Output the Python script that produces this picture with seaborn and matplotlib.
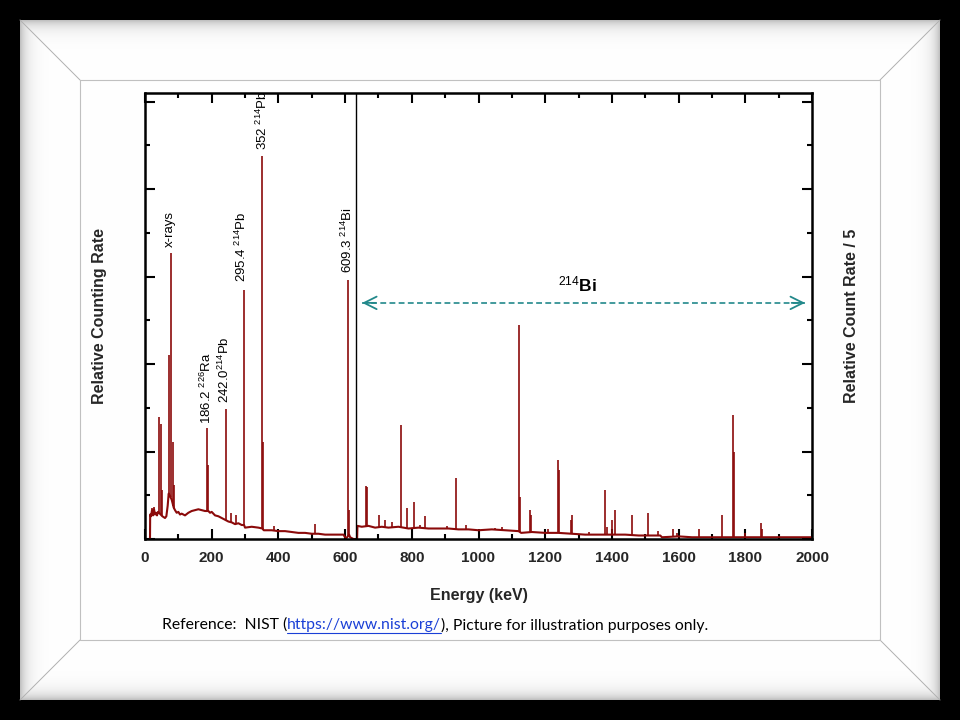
import matplotlib
matplotlib.use('Agg')

import matplotlib.pyplot as plt
from matplotlib.lines import Line2D
from matplotlib.ticker import MultipleLocator
import seaborn as sns
import numpy as np


# continuum of the spectrum (keV, relative rate)
cont_kev = [15, 15.5, 18, 21, 24, 27, 30, 33, 36, 39, 42, 52, 56, 60, 64, 68, 71,
            74, 80, 86, 90, 95, 100, 105, 110, 120, 130, 140, 150, 160, 170, 180,
            190, 195, 200, 210, 220, 230, 240, 250, 260, 270, 280, 290, 297, 300,
            320, 340, 352, 356, 380, 400, 420, 440, 460, 480, 500, 520, 540, 560,
            580, 595, 600, 604, 612, 615, 625, 632, 636, 637, 650, 670, 690, 710,
            730, 760, 790, 820, 850, 880, 910, 940, 970, 1000, 1040, 1080, 1120,
            1128, 1160, 1200, 1240, 1280, 1320, 1360, 1400, 1440, 1480, 1520,
            1545, 1550, 1600, 1640, 1680, 1720, 1760, 1800, 1840, 1880, 1920,
            1960, 2000]
cont_rate = [0.0, 0.28, 0.26, 0.33, 0.27, 0.34, 0.28, 0.30, 0.27, 0.31, 0.30, 0.26,
             0.25, 0.24, 0.26, 0.38, 0.52, 0.50, 0.45, 0.36, 0.33, 0.30, 0.31, 0.28,
             0.29, 0.27, 0.30, 0.32, 0.33, 0.34, 0.33, 0.32, 0.32, 0.30, 0.31, 0.27,
             0.26, 0.24, 0.22, 0.20, 0.19, 0.17, 0.18, 0.16, 0.16, 0.13, 0.14, 0.13,
             0.12, 0.10, 0.10, 0.09, 0.09, 0.08, 0.07, 0.07, 0.06, 0.06, 0.05, 0.05,
             0.05, 0.05, 0.02, 0.01, 0.05, 0.02, 0.0, 0.0, 0.0, 0.15, 0.14, 0.15,
             0.13, 0.14, 0.13, 0.14, 0.12, 0.13, 0.12, 0.12, 0.12, 0.11, 0.11, 0.10,
             0.11, 0.10, 0.09, 0.07, 0.08, 0.07, 0.07, 0.06, 0.05, 0.05, 0.05, 0.05,
             0.04, 0.04, 0.04, 0.02, 0.03, 0.02, 0.02, 0.02, 0.02, 0.02, 0.02, 0.02,
             0.02, 0.02, 0.02]

# line peaks (keV, relative rate at top)
peak_kev = [20, 26, 42, 47, 50, 73, 77, 85, 88, 186.2, 189, 242.0, 258, 274, 295.4,
            352, 355, 386, 511, 609.3, 613,
            662, 666, 703, 720, 741, 768.4, 786, 806.2, 825, 839, 905, 934, 964,
            1050, 1070, 1120.3, 1124, 1153, 1157, 1207, 1238, 1241, 1278, 1281,
            1330, 1378, 1385, 1401, 1408, 1461, 1509, 1539, 1583, 1594, 1661, 1730,
            1764.5, 1767, 1799, 1847, 1849, 1901]
peak_rate = [0.36, 0.37, 1.40, 1.31, 0.56, 2.10, 3.27, 1.11, 0.62, 1.27, 0.85, 1.49,
             0.30, 0.27, 2.85, 4.38, 1.11, 0.15, 0.17, 2.96, 0.33,
             0.61, 0.59, 0.28, 0.22, 0.20, 1.30, 0.36, 0.42, 0.16, 0.26, 0.15, 0.70,
             0.16, 0.13, 0.14, 2.45, 0.48, 0.33, 0.27, 0.11, 0.90, 0.79, 0.22, 0.27,
             0.08, 0.56, 0.14, 0.22, 0.33, 0.27, 0.30, 0.09, 0.11, 0.07, 0.12, 0.28,
             1.42, 0.99, 0.07, 0.18, 0.12, 0.04]

# labels over the main lines
label_kev = [75, 185, 238, 290, 351, 607]
label_pos = [3.34, 1.32, 1.55, 2.94, 4.45, 3.04]
label_txt = ['x-rays', '186.2 $^{226}$Ra', '242.0$^{214}$Pb', '295.4 $^{214}$Pb',
             '352 $^{214}$Pb', '609.3 $^{214}$Bi']

divider_kev = 633
bi_range = [651, 1979]
bi_level = 2.70

RED = '#8b0a0a'
TEAL = '#23898b'

sns.set_style("ticks", {"xtick.direction": "in", "ytick.direction": "in"})
plt.rcParams['font.family'] = ['Liberation Sans', 'DejaVu Sans']
plt.rcParams['mathtext.fontset'] = 'custom'
plt.rcParams['mathtext.rm'] = 'Liberation Sans'
plt.rcParams['mathtext.it'] = 'Liberation Sans:italic'
plt.rcParams['mathtext.bf'] = 'Liberation Sans:bold'

fig = plt.figure(figsize=(9.6, 7.2), dpi=100)

################################################################################
# slide frame behind the chart
H, W = 720, 960
yy, xx = np.mgrid[0:H, 0:W]
img = np.zeros((H, W, 3))
inside = (xx >= 20) & (xx < 940) & (yy >= 20) & (yy < 700)
d = np.minimum(np.minimum(xx - 20, 939 - xx), np.minimum(yy - 20, 699 - yy))
shade = 1 - 0.24 * np.exp(-d / 7.0)
img[inside] = shade[inside][:, None]

bg = fig.add_axes([0, 0, 1, 1], zorder=-10)
bg.imshow(img, extent=(0, W, H, 0), interpolation='nearest')
for (x1, y1, x2, y2) in [(20, 20, 80, 80), (940, 20, 880, 80),
                         (20, 700, 80, 640), (940, 700, 880, 640)]:
    bg.plot([x1, x2], [y1, y2], color='#b0b0b0', lw=0.7)
bg.plot([80, 880, 880, 80, 80], [80, 80, 640, 640, 80], color='#c0c0c0', lw=0.8)
bg.set_xlim(0, W)
bg.set_ylim(H, 0)
bg.axis('off')

################################################################################
# spectrum
ax = fig.add_axes([145 / 960, 1 - 539 / 720, 667 / 960, 446 / 720])
ax.set_facecolor('white')

sns.lineplot(x=cont_kev, y=cont_rate, ax=ax, color=RED, linewidth=1.5,
             sort=False, estimator=None)
peak_base = np.interp(peak_kev, cont_kev, cont_rate)
ax.vlines(peak_kev, peak_base, peak_rate, color=RED, linewidth=1.2)

ax.axvline(divider_kev, color='black', linewidth=1.0)

for x, y, t in zip(label_kev, label_pos, label_txt):
    ax.text(x, y, t, rotation=90, ha='center', va='bottom', fontsize=9.5,
            color='black', clip_on=False)

# 214Bi range arrow
ax.plot(bi_range, [bi_level, bi_level], color=TEAL, linewidth=1.2,
        linestyle=(0, (3.5, 2)))
for tip, tail in [(bi_range[0], bi_range[0] + 40), (bi_range[1], bi_range[1] - 40)]:
    ax.annotate('', xy=(tip, bi_level), xytext=(tail, bi_level),
                arrowprops=dict(arrowstyle='->,head_length=0.9,head_width=0.45',
                                color=TEAL, linewidth=1.3, shrinkA=0, shrinkB=0))
ax.text(1298, 2.83, r'$^{214}\mathbf{Bi}$', ha='center', va='baseline',
        fontsize=12.5, color='black')

ax.set_xlim(0, 2000)
ax.set_ylim(0, 5.1)
ax.xaxis.set_major_locator(MultipleLocator(200))
ax.xaxis.set_minor_locator(MultipleLocator(100))
ax.yaxis.set_major_locator(MultipleLocator(1))
ax.yaxis.set_minor_locator(MultipleLocator(0.5))
ax.tick_params(which='both', direction='in', top=True, right=True,
               width=1.5, color='black')
ax.tick_params(which='major', length=7)
ax.tick_params(which='minor', length=3.5)
ax.tick_params(axis='x', labelsize=11, pad=9)
ax.set_yticklabels([])
for lab in ax.get_xticklabels():
    lab.set_fontweight('bold')
for s in ax.spines.values():
    s.set_linewidth(1.8)
    s.set_color('black')
    s.set_visible(True)

ax.set_xlabel('')
ax.set_ylabel('')
ax.text(0.5, -0.1256, 'Energy (keV)', transform=ax.transAxes, ha='center',
        va='center', fontsize=11.5, fontweight='bold')
ax.text(-0.0675, 0.5, 'Relative Counting Rate', transform=ax.transAxes,
        rotation=90, ha='center', va='center', fontsize=11.5, fontweight='bold')
ax.text(1.0585, 0.5, 'Relative Count Rate / 5', transform=ax.transAxes,
        rotation=90, ha='center', va='center', fontsize=11.5, fontweight='bold')

################################################################################
# caption with link
fig.canvas.draw()
r = fig.canvas.get_renderer()
cy = 1 - 625 / 720
cap_font = dict(fontsize=11.3, family=['Lato', 'DejaVu Sans'], va='center')
t1 = fig.text(162 / 960, cy, 'Reference:  NIST (', color='black', **cap_font)
b1 = t1.get_window_extent(r)
t2 = fig.text(b1.x1 / 960, cy, 'https://www.nist.org/', color='#1a3fd6', **cap_font)
b2 = t2.get_window_extent(r)
fig.add_artist(Line2D([b2.x0 / 960, b2.x1 / 960], [(b2.y0 - 1) / 720] * 2,
                      transform=fig.transFigure, color='#1a3fd6', linewidth=0.8))
fig.text(b2.x1 / 960, cy, '), Picture for illustration purposes only.',
         color='black', **cap_font)

plt.savefig('out.png', dpi=100)
plt.close()
